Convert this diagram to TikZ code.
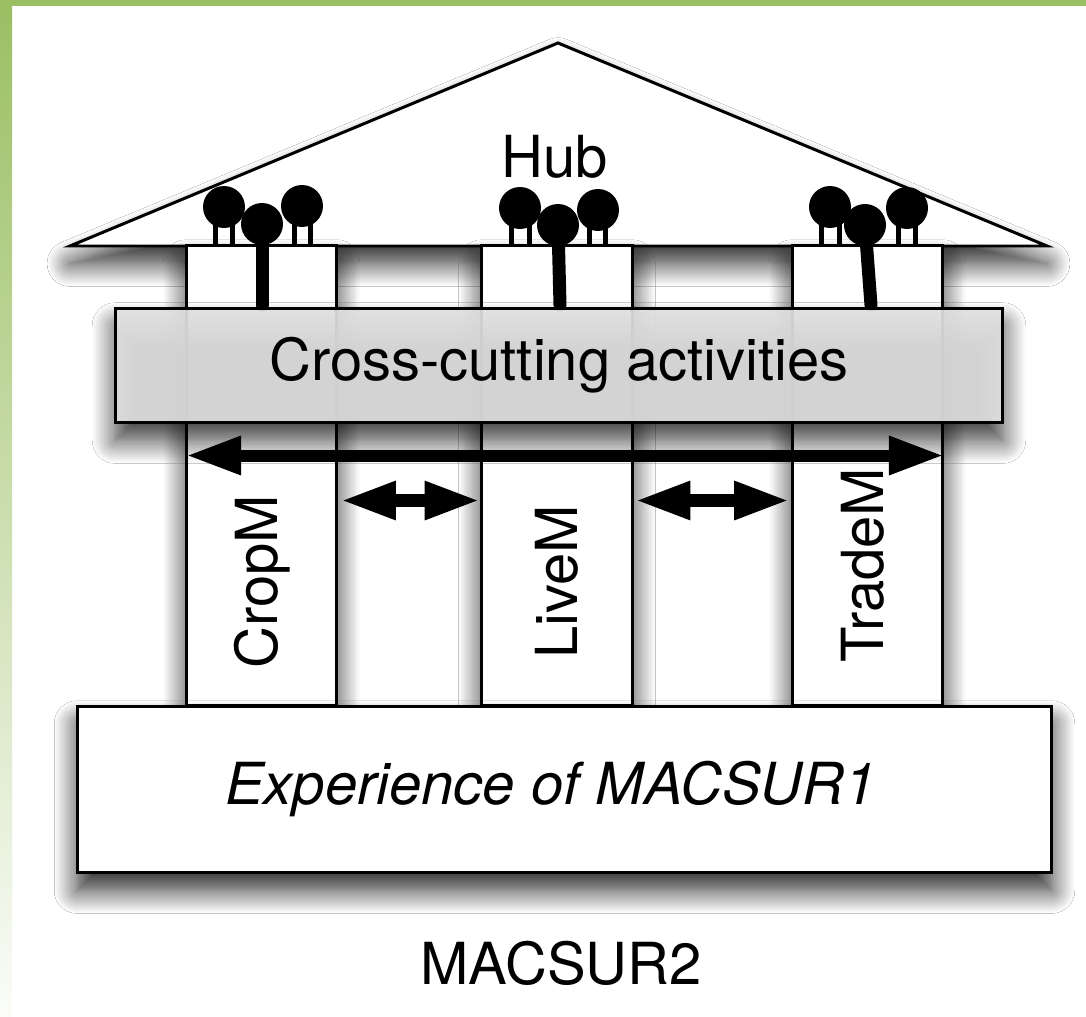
\documentclass[tikz,border=0pt]{standalone}
\usepackage{fontspec}
\setmainfont{TeX Gyre Heros}
\usetikzlibrary{arrows.meta,shadows.blur}
\definecolor{macgreen}{RGB}{155,191,99}
\definecolor{crossgray}{RGB}{225,225,225}

\begin{document}
\begin{tikzpicture}[x=0.02cm,y=-0.02cm,
  font=\fontsize{33}{40}\selectfont,
  block/.style={draw,line width=1.7pt,fill=white,inner sep=0pt},
  shadowed/.style={blur shadow={shadow xshift=0pt,shadow yshift=-10pt,shadow blur radius=13pt,shadow blur steps=14,shadow opacity=85}},
  pillar/.style={block,shadowed,minimum width=3.02cm,minimum height=9.22cm},
  leg/.style={line width=0.1cm},
  stick/.style={line width=0.26cm,line cap=round},
  dblarrow/.style={draw=black,{Triangle[length=1.05cm,width=0.8cm,line width=0pt,fill=black]}-{Triangle[length=1.05cm,width=0.8cm,line width=0pt,fill=black]}},
]
\useasboundingbox (0,0) rectangle (1086,1017);
\fill[white] (0,0) rectangle (1086,1017);

\fill[macgreen] (0,0) rectangle (1086,6);
\shade[top color=macgreen,middle color=macgreen!35,bottom color=macgreen!4] (0,0) rectangle (12,1017);

\draw[line width=1.7pt,fill=white,shadowed] (70,246) -- (558,43) -- (1047,246) -- cycle;
\node (hub) at (555,157) {Hub};

\node[pillar] (crop) at (261.5,475.5) {};
\node[pillar] (live) at (557,475.5) {};
\node[pillar] (trade) at (867.5,475.5) {};

\draw[leg] (215,215) -- (215,245);
\draw[leg] (232,215) -- (232,245);
\draw[leg] (294,215) -- (294,245);
\draw[leg] (310,215) -- (310,245);
\draw[stick] (262,224) -- (262,305);
\fill (224,207) circle[radius=0.42cm];
\fill (302,206) circle[radius=0.42cm];
\fill (262,224) circle[radius=0.42cm];

\draw[leg] (511,215) -- (511,245);
\draw[leg] (529,215) -- (529,245);
\draw[leg] (589,215) -- (589,245);
\draw[leg] (605,215) -- (605,245);
\draw[stick] (558,225) -- (560,305);
\fill (520,208) circle[radius=0.42cm];
\fill (598,210) circle[radius=0.42cm];
\fill (558,225) circle[radius=0.42cm];

\draw[leg] (821,215) -- (821,245);
\draw[leg] (839,215) -- (839,245);
\draw[leg] (898,215) -- (898,245);
\draw[leg] (915,215) -- (915,245);
\draw[stick] (865,225) -- (871,305);
\fill (830,207) circle[radius=0.42cm];
\fill (907,208) circle[radius=0.42cm];
\fill (865,225) circle[radius=0.42cm];

\node[block,shadowed,fill=crossgray,fill opacity=0.92,text opacity=1,
  minimum width=17.76cm,minimum height=2.3cm] (cross) at (559,365.5) {Cross-cutting activities};

\draw[dblarrow,line width=0.24cm] ([shift={(4,-20)}]crop.west) -- ([shift={(-3,-20)}]trade.east);
\draw[dblarrow,line width=0.26cm] ([shift={(5,25)}]crop.east) -- ([shift={(-3,25)}]live.west);
\draw[dblarrow,line width=0.26cm] ([shift={(4,25)}]live.east) -- ([shift={(-4,25)}]trade.west);

\node[rotate=90] (croplab) at (262,582) {CropM};
\node[rotate=90] (livelab) at (557,582) {LiveM};
\node[rotate=90] (tradelab) at (863,565) {TradeM};

\node[block,shadowed,minimum width=19.5cm,minimum height=3.34cm] (exp) at (564.5,789.5) {};
\node[font=\fontsize{33}{40}\selectfont\itshape] (explab) at (551,789) {Experience of MACSUR1};

\node (macsur) at (561,963) {MACSUR2};
\end{tikzpicture}
\end{document}
